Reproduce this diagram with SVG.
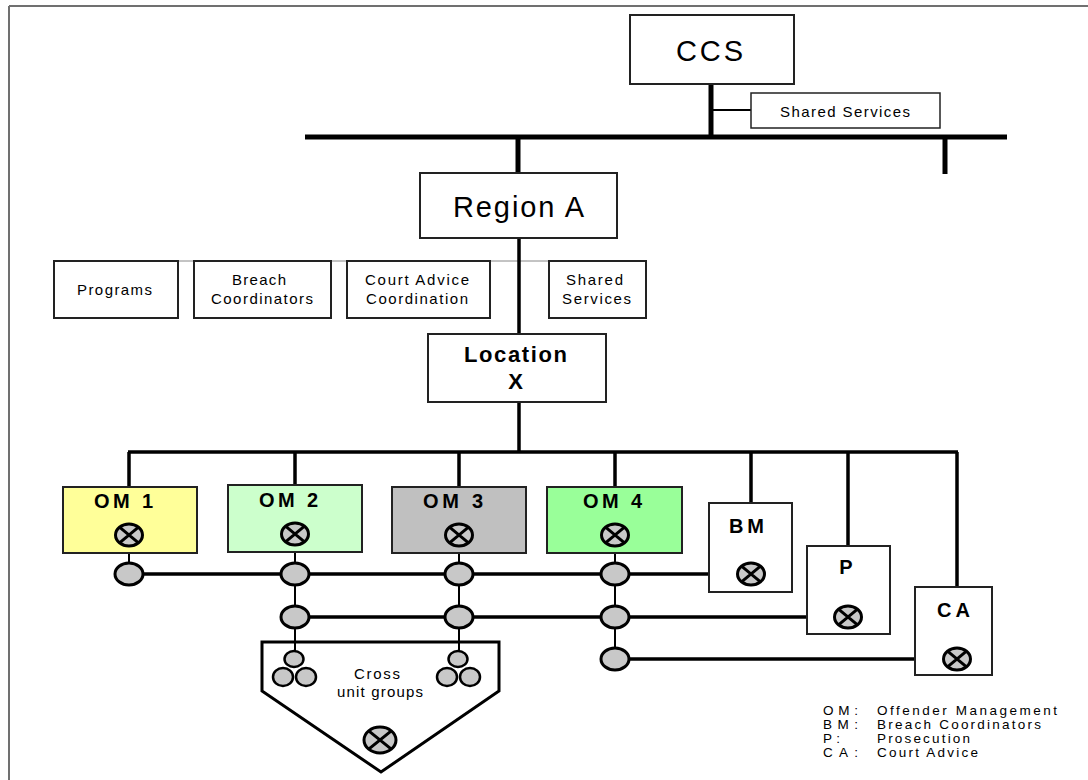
<svg xmlns="http://www.w3.org/2000/svg" width="1088" height="780" viewBox="0 0 1088 780">
<defs>
<style>
text{font-family:"Liberation Sans",Arial,sans-serif;fill:#000}
.box{fill:#fff;stroke:#222;stroke-width:2}
.big{font-size:29px}
.sm{font-size:15px}
.md{font-size:15px}
.lg{font-size:13.5px}
.bold{font-weight:bold}
.lbl{font-size:20px;font-weight:bold}
.bus{stroke:#000;stroke-width:5;fill:none}
.bus2{stroke:#000;stroke-width:3.5;fill:none}
.thin{stroke:#000;stroke-width:2;fill:none}
.node{fill:#c8c8c8;stroke:#000;stroke-width:3}
.xl{stroke:#000;stroke-width:3}
.cl{fill:#c8c8c8;stroke:#000;stroke-width:2.5}
</style>
</defs>
<rect width="1088" height="780" fill="#fff"/>
<g id="frame" stroke="#707070" stroke-width="2" fill="none">
<line x1="9" y1="6" x2="1088" y2="6"/>
<line x1="9" y1="6" x2="9" y2="780"/>
</g>
<g id="connectors">
<line class="bus" x1="711" y1="84" x2="711" y2="137"/>
<line class="thin" x1="711" y1="110" x2="751" y2="110" stroke-width="1.5"/>
<line class="bus" x1="305" y1="137" x2="1007" y2="137"/>
<line class="bus" x1="945" y1="137" x2="945" y2="174"/>
<line class="bus" x1="518" y1="137" x2="518" y2="173"/>
<line x1="54" y1="261" x2="646" y2="261" stroke="#888" stroke-width="1"/>
<line class="bus2" x1="519" y1="238" x2="519" y2="334"/>
<line class="bus2" x1="519" y1="402" x2="519" y2="452"/>
<line class="bus2" x1="128" y1="452" x2="958" y2="452"/>
<line class="bus2" x1="129" y1="452" x2="129" y2="487"/>
<line class="bus2" x1="295" y1="452" x2="295" y2="485"/>
<line class="bus2" x1="459" y1="452" x2="459" y2="487"/>
<line class="bus2" x1="615" y1="452" x2="615" y2="487"/>
<line class="bus2" x1="751" y1="452" x2="751" y2="503"/>
<line class="bus2" x1="848" y1="452" x2="848" y2="546"/>
<line class="bus2" x1="957" y1="452" x2="957" y2="587"/>
<line class="bus2" x1="129" y1="574" x2="751" y2="574"/>
<line class="bus2" x1="295" y1="617" x2="848" y2="617"/>
<line class="bus2" x1="615" y1="659" x2="957" y2="659"/>
<line class="thin" x1="129" y1="535" x2="129" y2="574"/>
<line class="thin" x1="295" y1="534" x2="295" y2="659"/>
<line class="thin" x1="459" y1="535" x2="459" y2="659"/>
<line class="thin" x1="615" y1="535" x2="615" y2="659"/>
</g>
<g id="ccs">
<rect class="box" x="630" y="15" width="164" height="69"/>
<text class="big" x="676" y="61" textLength="67" lengthAdjust="spacing">CCS</text>
</g>
<g id="shared-services-top">
<rect class="box" x="751" y="93" width="189" height="35" style="stroke-width:1.5"/>
<text class="md" x="780" y="117" textLength="130" lengthAdjust="spacing">Shared Services</text>
</g>
<g id="region-a">
<rect class="box" x="420" y="173" width="197" height="65"/>
<text class="big" x="453" y="217" textLength="131" lengthAdjust="spacing">Region A</text>
</g>
<g id="programs">
<rect class="box" x="54" y="261" width="124" height="57"/>
<text class="sm" x="77" y="295" textLength="75" lengthAdjust="spacing">Programs</text>
</g>
<g id="breach-coordinators">
<rect class="box" x="194" y="261" width="137" height="57"/>
<text class="sm" x="232" y="285" textLength="54" lengthAdjust="spacing">Breach</text>
<text class="sm" x="211" y="304" textLength="102" lengthAdjust="spacing">Coordinators</text>
</g>
<g id="court-advice-coordination">
<rect class="box" x="347" y="261" width="143" height="57"/>
<text class="sm" x="365" y="285" textLength="104" lengthAdjust="spacing">Court Advice</text>
<text class="sm" x="366" y="304" textLength="102" lengthAdjust="spacing">Coordination</text>
</g>
<g id="shared-services-region">
<rect class="box" x="549" y="261" width="97" height="57"/>
<text class="sm" x="566" y="285" textLength="57" lengthAdjust="spacing">Shared</text>
<text class="sm" x="562" y="304" textLength="69" lengthAdjust="spacing">Services</text>
</g>
<g id="location-x">
<rect class="box" x="428" y="334" width="178" height="68"/>
<text class="bold" font-size="22" x="464" y="362" textLength="103" lengthAdjust="spacing">Location</text>
<text class="bold" font-size="22" x="515.5" y="389" text-anchor="middle">X</text>
</g>
<g id="om1">
<rect class="box" x="63" y="487" width="134" height="66" style="fill:#ffff99"/>
<text class="lbl" x="94" y="508" textLength="59" lengthAdjust="spacing">OM 1</text>
<ellipse class="node" cx="129" cy="535" rx="13.5" ry="11"/>
<path class="xl" d="M119.5 527.2L138.5 542.8M138.5 527.2L119.5 542.8"/>
</g>
<g id="om2">
<rect class="box" x="228" y="485" width="134" height="67" style="fill:#ccffcc"/>
<text class="lbl" x="259" y="507" textLength="59" lengthAdjust="spacing">OM 2</text>
<ellipse class="node" cx="295" cy="534" rx="13.5" ry="11"/>
<path class="xl" d="M285.5 526.2L304.5 541.8M304.5 526.2L285.5 541.8"/>
</g>
<g id="om3">
<rect class="box" x="392" y="487" width="134" height="66" style="fill:#c0c0c0"/>
<text class="lbl" x="423" y="508" textLength="60" lengthAdjust="spacing">OM 3</text>
<ellipse class="node" cx="459" cy="535" rx="13.5" ry="11"/>
<path class="xl" d="M449.5 527.2L468.5 542.8M468.5 527.2L449.5 542.8"/>
</g>
<g id="om4">
<rect class="box" x="547" y="487" width="135" height="66" style="fill:#99ff99"/>
<text class="lbl" x="583" y="508" textLength="59" lengthAdjust="spacing">OM 4</text>
<ellipse class="node" cx="615" cy="535" rx="13.5" ry="11"/>
<path class="xl" d="M605.5 527.2L624.5 542.8M624.5 527.2L605.5 542.8"/>
</g>
<g id="bm">
<rect class="box" x="709" y="503" width="83" height="89"/>
<text class="lbl" x="729" y="533" textLength="35" lengthAdjust="spacing">BM</text>
<ellipse class="node" cx="751" cy="574" rx="13.5" ry="11"/>
<path class="xl" d="M741.5 566.2L760.5 581.8M760.5 566.2L741.5 581.8"/>
</g>
<g id="p">
<rect class="box" x="807" y="546" width="83" height="88"/>
<text class="lbl" x="846" y="574" text-anchor="middle">P</text>
<ellipse class="node" cx="848" cy="617" rx="13.5" ry="11"/>
<path class="xl" d="M838.5 609.2L857.5 624.8M857.5 609.2L838.5 624.8"/>
</g>
<g id="ca">
<rect class="box" x="915" y="587" width="77" height="88"/>
<text class="lbl" x="937" y="617" textLength="33" lengthAdjust="spacing">CA</text>
<ellipse class="node" cx="957" cy="659" rx="13.5" ry="11"/>
<path class="xl" d="M947.5 651.2L966.5 666.8M966.5 651.2L947.5 666.8"/>
</g>
<g id="hubs">
<ellipse class="node" cx="129" cy="574" rx="14" ry="11"/>
<ellipse class="node" cx="295" cy="574" rx="14" ry="11"/>
<ellipse class="node" cx="459" cy="574" rx="14" ry="11"/>
<ellipse class="node" cx="615" cy="574" rx="14" ry="11"/>
<ellipse class="node" cx="295" cy="617" rx="14" ry="11"/>
<ellipse class="node" cx="459" cy="617" rx="14" ry="11"/>
<ellipse class="node" cx="615" cy="617" rx="14" ry="11"/>
<ellipse class="node" cx="615" cy="659" rx="14" ry="11"/>
</g>
<g id="cross-unit-groups">
<polygon points="262,642 499,642 499,691 381,772 262,691" fill="#fff" stroke="#000" stroke-width="3"/>
<line class="thin" x1="295" y1="642" x2="295" y2="652"/>
<line class="thin" x1="459" y1="642" x2="459" y2="652"/>
<ellipse class="cl" cx="294" cy="659" rx="9.5" ry="8"/>
<ellipse class="cl" cx="283" cy="677" rx="10" ry="9"/>
<ellipse class="cl" cx="306" cy="677" rx="10" ry="9"/>
<ellipse class="cl" cx="458" cy="659" rx="9.5" ry="8"/>
<ellipse class="cl" cx="447" cy="677" rx="10" ry="9"/>
<ellipse class="cl" cx="470" cy="677" rx="10" ry="9"/>
<text class="md" x="354" y="679" textLength="46" lengthAdjust="spacing">Cross</text>
<text class="md" x="337" y="697" textLength="86" lengthAdjust="spacing">unit groups</text>
<ellipse class="node" cx="380" cy="740" rx="16" ry="13"/>
<path class="xl" d="M368.7 730.8L391.3 749.2M391.3 730.8L368.7 749.2"/>
</g>
<g id="legend" class="lg">
<text x="823" y="715" textLength="35" lengthAdjust="spacing">OM:</text>
<text x="877" y="715" textLength="180" lengthAdjust="spacing">Offender Management</text>
<text x="823" y="729" textLength="35" lengthAdjust="spacing">BM:</text>
<text x="877" y="729" textLength="164" lengthAdjust="spacing">Breach Coordinators</text>
<text x="823" y="743" textLength="17" lengthAdjust="spacing">P:</text>
<text x="877" y="743" textLength="93" lengthAdjust="spacing">Prosecution</text>
<text x="823" y="757" textLength="35" lengthAdjust="spacing">CA:</text>
<text x="877" y="757" textLength="101" lengthAdjust="spacing">Court Advice</text>
</g>
</svg>
